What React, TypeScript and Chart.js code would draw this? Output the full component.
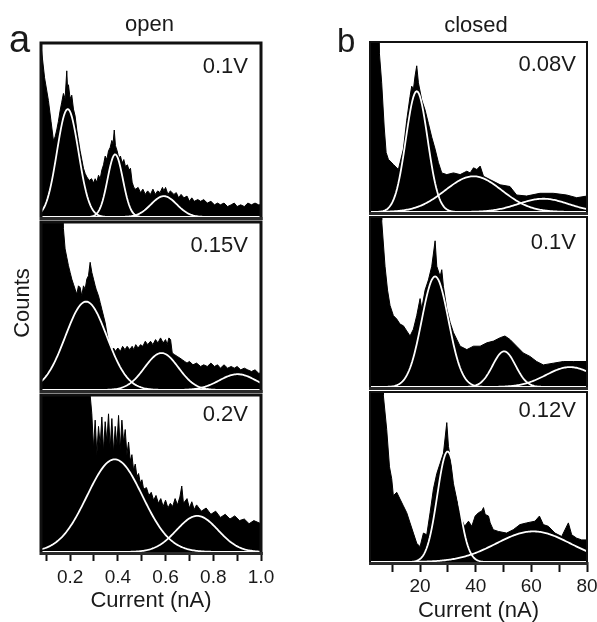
import React, { useEffect, useRef } from "react";
import { Chart, registerables } from "chart.js";

Chart.register(...registerables);

const FONT = '"Liberation Sans", Arial, Helvetica, sans-serif';
Chart.defaults.font.family = FONT;

// ---------- tick values / labels ----------
const openTicks = [0.1, 0.2, 0.3, 0.4, 0.5, 0.6, 0.7, 0.8, 0.9, 1.0];
const openTickLabels = ["", "0.2", "", "0.4", "", "0.6", "", "0.8", "", "1.0"];
const closedTicks = [10, 20, 30, 40, 50, 60, 70, 80];
const closedTickLabels = ["", "20", "", "40", "", "60", "", "80"];

const panelTitles = ["open", "closed"];
const openVoltages = ["0.1V", "0.15V", "0.2V"];
const closedVoltages = ["0.08V", "0.1V", "0.12V"];

// ---------- open, 0.1 V ----------
const open01X = [0.08, 0.093, 0.109, 0.12, 0.13, 0.137, 0.144, 0.151, 0.158, 0.165, 0.172, 0.179, 0.186, 0.19, 0.193, 0.2, 0.207, 0.214, 0.221, 0.228, 0.235, 0.242, 0.249, 0.256, 0.263, 0.27, 0.28, 0.29, 0.298, 0.305, 0.312, 0.319, 0.326, 0.333, 0.34, 0.347, 0.354, 0.361, 0.368, 0.375, 0.38, 0.385, 0.39, 0.397, 0.404, 0.411, 0.418, 0.425, 0.432, 0.44, 0.447, 0.453, 0.46, 0.467, 0.475, 0.485, 0.495, 0.505, 0.515, 0.525, 0.537, 0.547, 0.557, 0.567, 0.577, 0.587, 0.593, 0.6, 0.61, 0.62, 0.635, 0.645, 0.655, 0.665, 0.677, 0.69, 0.7, 0.71, 0.72, 0.735, 0.747, 0.76, 0.775, 0.79, 0.805, 0.818, 0.83, 0.845, 0.86, 0.875, 0.888, 0.9, 0.915, 0.93, 0.945, 0.96, 0.975, 0.99, 1.0];
const open01Y = [96, 80, 67, 55, 44, 46, 50, 55, 61, 66, 71, 68, 84, 72, 76, 68, 70, 62, 58, 50, 44, 38, 33, 28, 25, 23, 21, 22, 19.5, 22, 20, 24, 22, 27, 30, 35, 33, 38, 40, 44, 42, 50, 41, 38, 34, 35, 31, 33, 29, 30, 27, 28, 20, 17, 16, 17, 14, 16, 13, 15, 13, 16, 13, 15, 14, 17, 15, 17, 13, 15, 13, 14, 11, 13, 11, 12, 9, 11, 9, 10, 9, 10, 8, 9, 7, 8, 7, 8, 6, 7, 8, 6, 7, 6, 8, 7, 8, 7, 7];
const open01Centres = [0.19, 0.389, 0.593];
const open01Sigmas = [0.045, 0.032, 0.054];
const open01Heights = [62, 36, 12];

// ---------- open, 0.15 V ----------
const open015X = [0.078, 0.169, 0.172, 0.179, 0.186, 0.193, 0.2, 0.207, 0.214, 0.221, 0.228, 0.235, 0.242, 0.249, 0.256, 0.263, 0.27, 0.277, 0.284, 0.291, 0.298, 0.305, 0.309, 0.319, 0.326, 0.333, 0.34, 0.347, 0.354, 0.361, 0.368, 0.375, 0.382, 0.39, 0.4, 0.411, 0.42, 0.43, 0.439, 0.45, 0.46, 0.467, 0.475, 0.485, 0.495, 0.505, 0.515, 0.525, 0.537, 0.547, 0.558, 0.568, 0.579, 0.59, 0.6, 0.607, 0.614, 0.621, 0.628, 0.638, 0.649, 0.66, 0.67, 0.68, 0.69, 0.7, 0.715, 0.73, 0.747, 0.76, 0.775, 0.79, 0.805, 0.818, 0.83, 0.845, 0.86, 0.875, 0.888, 0.9, 0.915, 0.93, 0.944, 0.96, 0.975, 0.99, 1.0];
const open015Y = [120, 120, 96, 84, 79, 74, 70, 66, 63, 60, 57, 62, 61, 56, 62, 60, 66, 68, 76, 70, 66, 62, 60, 56, 52, 48, 44, 40, 34, 29, 27, 24, 25, 23, 25, 23, 26, 24, 26, 24, 26, 24, 27, 25, 27, 26, 29, 27, 29, 27, 30, 28, 31, 28, 30, 27, 31, 30, 22, 21, 20, 19, 18, 17, 16, 17, 15, 16, 14, 15, 14, 16, 14, 15, 13, 15, 13, 14, 13, 14, 12, 13, 12, 11, 12, 10, 10];
const open015Centres = [0.267, 0.583, 0.902];
const open015Sigmas = [0.087, 0.071, 0.077];
const open015Heights = [52.6, 22, 9.4];

// ---------- open, 0.2 V ----------
const open02X = [0.078, 0.283, 0.284, 0.291, 0.298, 0.305, 0.312, 0.319, 0.326, 0.333, 0.34, 0.347, 0.354, 0.361, 0.368, 0.375, 0.382, 0.389, 0.396, 0.403, 0.41, 0.417, 0.424, 0.431, 0.438, 0.445, 0.452, 0.459, 0.466, 0.473, 0.48, 0.487, 0.494, 0.501, 0.508, 0.52, 0.53, 0.54, 0.55, 0.56, 0.57, 0.58, 0.59, 0.6, 0.61, 0.62, 0.63, 0.64, 0.65, 0.66, 0.668, 0.675, 0.69, 0.7, 0.71, 0.72, 0.73, 0.75, 0.77, 0.79, 0.81, 0.83, 0.85, 0.87, 0.89, 0.91, 0.93, 0.95, 0.97, 1.0];
const open02Y = [120, 120, 100, 88, 66, 84, 62, 80, 68, 86, 64, 83, 70, 88, 66, 85, 63, 80, 68, 87, 65, 84, 70, 78, 62, 70, 58, 62, 52, 56, 48, 50, 44, 46, 40, 41, 36, 38, 33, 36, 31, 34, 29, 33, 28, 31, 29, 34, 30, 35, 42, 31, 34, 28, 32, 27, 30, 26, 28, 24, 26, 22, 24, 21, 23, 20, 21, 18, 20, 18];
const open02Centres = [0.387, 0.733];
const open02Sigmas = [0.116, 0.087];
const open02Heights = [59, 23];

// ---------- closed, 0.08 V ----------
const closed008X = [2, 5.0, 5.4, 6.2, 7.1, 7.8, 8.6, 10.4, 12.2, 12.8, 14.0, 15.2, 16.4, 17.0, 17.6, 18.2, 18.8, 19.4, 20.6, 21.8, 23.0, 24.2, 25.4, 26.6, 27.8, 29.6, 32.0, 34.4, 36.8, 38.0, 39.2, 40.4, 41.6, 42.8, 45.2, 48.8, 52.3, 54.7, 58.3, 63.1, 67.9, 72.7, 76.3, 80];
const closed008Y = [150, 150, 93, 76, 50, 35, 31, 28, 25, 29, 37, 54, 68, 74, 72, 80, 86, 76, 66, 60, 52, 44, 37, 29, 23, 22, 23, 22, 24, 23, 26, 25, 27, 21, 19, 16, 15, 10, 9.4, 11, 11, 10, 8.4, 9.4];
const closed008Centres = [18.8, 39.2, 64.3];
const closed008Sigmas = [3.9, 10.2, 9];
const closed008Heights = [71, 21, 7.8];

// ---------- closed, 0.1 V ----------
const closed01X = [2, 6.1, 6.2, 7.4, 8.3, 9.2, 10.4, 11.6, 12.8, 14.0, 15.2, 16.4, 17.6, 18.8, 20.0, 20.6, 21.8, 23.0, 24.2, 25.4, 26.0, 27.2, 27.8, 28.4, 29.6, 30.8, 32.0, 33.2, 34.4, 36.8, 39.2, 41.6, 44.0, 46.4, 48.8, 50.5, 52.3, 54.7, 57.1, 59.5, 61.9, 64.3, 67.9, 71.5, 75.1, 80];
const closed01Y = [150, 150, 98, 71, 57, 48, 42, 40, 37, 36, 33, 30, 34, 42, 52, 46, 57, 63, 71, 86, 71, 65, 69, 59, 46, 38, 32, 28, 24, 22, 24, 24, 26, 27, 29, 30, 28, 24, 20, 18, 15, 13, 14, 15, 15, 15];
const closed01Centres = [25.4, 50.2, 73.9];
const closed01Sigmas = [4.8, 4.1, 8.6];
const closed01Heights = [65, 21, 11.7];

// ---------- closed, 0.12 V ----------
const closed012X = [2, 6.7, 6.8, 8.0, 9.0, 9.8, 10.4, 11.0, 11.6, 12.8, 14.0, 15.2, 16.4, 17.6, 18.8, 20.0, 21.2, 22.4, 23.6, 24.8, 26.0, 27.2, 28.4, 29.6, 30.2, 30.8, 32.0, 33.8, 35.0, 36.0, 37.4, 38.6, 39.8, 41.0, 42.2, 42.8, 43.4, 44.6, 45.2, 46.3, 48.1, 51.1, 53.5, 55.9, 58.3, 61.3, 62.9, 64.3, 66.1, 68.5, 70.9, 73.3, 74.5, 76.3, 78.1, 80];
const closed012Y = [150, 150, 98, 78, 56, 49, 39, 40, 41, 37, 33, 29, 23, 17, 11, 9, 17, 16, 29, 43, 52, 58, 64, 82, 68, 62, 46, 32, 25, 21, 24, 21, 27, 29, 30, 32, 28, 27, 23, 19, 18, 17, 19, 22, 23, 24, 27, 22, 21, 17, 15, 23, 16, 14, 13, 13];
const closed012Centres = [29.9, 60.7];
const closed012Sigmas = [3.7, 13.3];
const closed012Heights = [65, 18];

// ---------- frame plugin ----------
const framePlugin = {
  id: "frame",
  afterDatasetsDraw(chart: any, _args: any, opts: any) {
    const { ctx, chartArea } = chart;
    const { left, right, top, bottom } = chartArea;
    ctx.save();
    ctx.strokeStyle = opts.color;
    ctx.lineWidth = opts.width;
    ctx.beginPath();
    ctx.moveTo(left, bottom);
    ctx.lineTo(left, top);
    ctx.lineTo(right, top);
    ctx.lineTo(right, bottom + opts.baseWidth);
    ctx.stroke();
    ctx.fillStyle = opts.baseColor;
    ctx.fillRect(left - opts.width / 2, bottom, right - left + opts.width, opts.baseWidth);
    ctx.fillStyle = "#1a1a1a";
    ctx.font = `22px ${FONT}`;
    ctx.textAlign = "right";
    ctx.textBaseline = "alphabetic";
    ctx.fillText(opts.label, right - opts.labelDx, top + opts.labelDy);
    ctx.restore();
  },
};

type AxisSpec = { ticks: number[]; labels: string[]; tickLength: number; pad: number };

type PanelProps = {
  left: number;
  top: number;
  width: number;
  height: number;
  xMin: number;
  xMax: number;
  histX: number[];
  histY: number[];
  centres: number[];
  sigmas: number[];
  heights: number[];
  label: string;
  labelDx: number;
  labelDy: number;
  frameWidth: number;
  baseWidth: number;
  axis?: AxisSpec;
};

function Panel(p: PanelProps) {
  const ref = useRef<HTMLCanvasElement>(null);
  const padL = 20;
  const padR = 20;
  const padT = 4;
  const axisH = p.axis ? 60 : 0;
  const padB = p.axis ? 0 : 6;
  const cw = p.width + padL + padR;
  const ch = padT + p.height + axisH + padB;

  useEffect(() => {
    const canvas = ref.current;
    if (!canvas) return;
    const fits = p.centres.map((c, k) => {
      const pts: { x: number; y: number }[] = [];
      const n = 200;
      for (let i = 0; i <= n; i++) {
        const x = p.xMin + ((p.xMax - p.xMin) * i) / n;
        pts.push({ x, y: p.heights[k] * Math.exp(-((x - c) ** 2) / (2 * p.sigmas[k] ** 2)) });
      }
      return {
        data: pts,
        borderColor: "#ffffff",
        borderWidth: 1.8,
        pointRadius: 0,
        fill: false,
        tension: 0,
        clip: 0,
        order: 1,
      };
    });
    const hist = {
      data: p.histX.map((x, i) => ({ x, y: p.histY[i] })),
      borderColor: "#000000",
      backgroundColor: "#000000",
      borderWidth: 1,
      pointRadius: 0,
      fill: "origin",
      tension: 0,
      clip: 0,
      order: 2,
    };
    const ax = p.axis;
    const xScale: any = {
      type: "linear",
      min: p.xMin,
      max: p.xMax,
      display: !!ax,
    };
    if (ax) {
      Object.assign(xScale, {
        border: { display: false },
        grid: {
          display: true,
          drawOnChartArea: false,
          drawTicks: true,
          tickLength: ax.tickLength,
          tickWidth: 2,
          tickColor: "#111111",
        },
        afterBuildTicks: (s: any) => {
          s.ticks = ax.ticks.map((v) => ({ value: v }));
        },
        afterFit: (s: any) => {
          s.height = axisH;
        },
        ticks: {
          autoSkip: false,
          maxRotation: 0,
          minRotation: 0,
          padding: ax.pad,
          color: "#1a1a1a",
          font: { family: FONT, size: 19 },
          callback: (_v: any, i: number) => ax.labels[i],
        },
        title: {
          display: true,
          text: "Current (nA)",
          color: "#1a1a1a",
          font: { family: FONT, size: 22, lineHeight: 1 },
          padding: { top: 0, bottom: 0 },
        },
      });
    }
    const chart = new Chart(canvas, {
      type: "line",
      data: { datasets: [hist, ...fits] as any },
      options: {
        animation: false,
        responsive: false,
        events: [],
        layout: { padding: { left: padL, right: padR, top: padT, bottom: padB } },
        plugins: {
          legend: { display: false },
          tooltip: { enabled: false },
          frame: {
            color: "#111111",
            width: p.frameWidth,
            baseColor: "#2a2a2a",
            baseWidth: p.baseWidth,
            label: p.label,
            labelDx: p.labelDx,
            labelDy: p.labelDy,
          },
        } as any,
        scales: {
          x: xScale,
          y: { display: false, min: 0, max: 100 },
        },
      },
      plugins: [framePlugin as any],
    });
    return () => chart.destroy();
  }, []);

  return (
    <canvas
      ref={ref}
      width={cw}
      height={ch}
      style={{ position: "absolute", left: p.left - padL, top: p.top - padT, width: cw, height: ch }}
    />
  );
}

const textBase: React.CSSProperties = {
  position: "absolute",
  fontFamily: FONT,
  color: "#1a1a1a",
  lineHeight: 1,
  whiteSpace: "nowrap",
};

export default function App() {
  const aL = 41;
  const aW = 220;
  const bL = 370;
  const bW = 217;
  return (
    <div style={{ position: "absolute", left: 0, top: 0, width: 597, height: 622, overflow: "hidden", background: "#fff" }}>
      <Panel left={aL} top={43} width={aW} height={174} xMin={0.078} xMax={1.0}
        histX={open01X} histY={open01Y} centres={open01Centres} sigmas={open01Sigmas} heights={open01Heights}
        label={openVoltages[0]} labelDx={13} labelDy={29.5} frameWidth={3} baseWidth={3} />
      <Panel left={aL} top={222} width={aW} height={168} xMin={0.078} xMax={1.0}
        histX={open015X} histY={open015Y} centres={open015Centres} sigmas={open015Sigmas} heights={open015Heights}
        label={openVoltages[1]} labelDx={13} labelDy={29.5} frameWidth={3} baseWidth={3} />
      <Panel left={aL} top={395} width={aW} height={157} xMin={0.078} xMax={1.0}
        histX={open02X} histY={open02Y} centres={open02Centres} sigmas={open02Sigmas} heights={open02Heights}
        label={openVoltages[2]} labelDx={13} labelDy={25.7} frameWidth={3} baseWidth={3}
        axis={{ ticks: openTicks, labels: openTickLabels, tickLength: 9, pad: 5 }} />

      <Panel left={bL} top={42} width={bW} height={170} xMin={2} xMax={80}
        histX={closed008X} histY={closed008Y} centres={closed008Centres} sigmas={closed008Sigmas} heights={closed008Heights}
        label={closedVoltages[0]} labelDx={11} labelDy={28.7} frameWidth={2} baseWidth={3} />
      <Panel left={bL} top={216.5} width={bW} height={170.5} xMin={2} xMax={80}
        histX={closed01X} histY={closed01Y} centres={closed01Centres} sigmas={closed01Sigmas} heights={closed01Heights}
        label={closedVoltages[1]} labelDx={11} labelDy={31.8} frameWidth={2} baseWidth={3} />
      <Panel left={bL} top={392} width={bW} height={170} xMin={2} xMax={80}
        histX={closed012X} histY={closed012Y} centres={closed012Centres} sigmas={closed012Sigmas} heights={closed012Heights}
        label={closedVoltages[2]} labelDx={11} labelDy={24.7} frameWidth={2} baseWidth={3}
        axis={{ ticks: closedTicks, labels: closedTickLabels, tickLength: 10, pad: 3 }} />

      <div style={{ ...textBase, left: 9, top: 19.5, fontSize: 38 }}>a</div>
      <div style={{ ...textBase, left: 337, top: 23.7, fontSize: 33 }}>b</div>
      <div style={{ ...textBase, left: 49.5, top: 13.4, width: 200, textAlign: "center", fontSize: 22 }}>{panelTitles[0]}</div>
      <div style={{ ...textBase, left: 376, top: 13.7, width: 200, textAlign: "center", fontSize: 22 }}>{panelTitles[1]}</div>
      <div
        style={{
          ...textBase,
          left: 21.7 - 60,
          top: 302.5 - 11,
          width: 120,
          height: 22,
          lineHeight: "22px",
          textAlign: "center",
          fontSize: 22,
          transform: "rotate(-90deg)",
        }}
      >
        Counts
      </div>
    </div>
  );
}
